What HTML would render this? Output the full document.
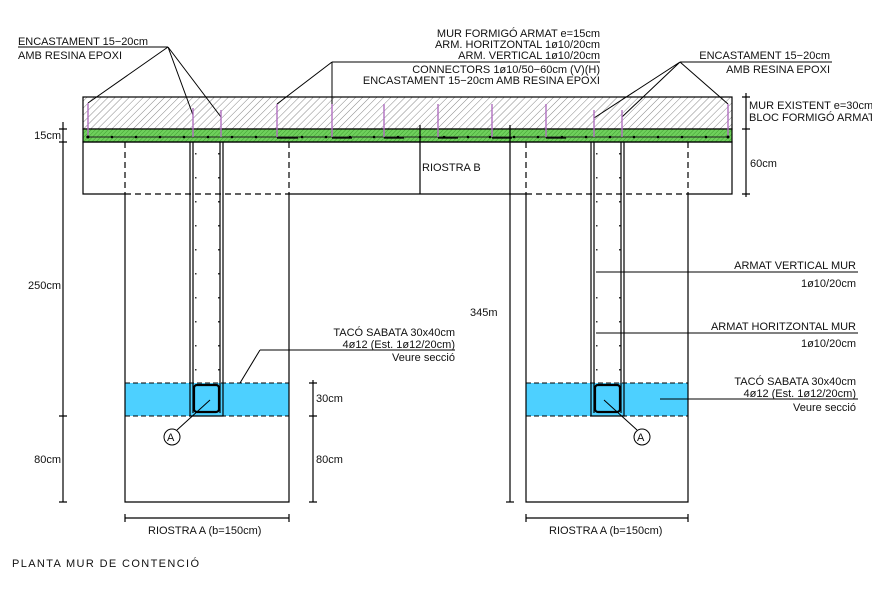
<!DOCTYPE html>
<html><head><meta charset="utf-8"><style>
html,body{margin:0;padding:0;background:#fff;}
svg{display:block;}
text{font-family:"Liberation Sans",sans-serif;font-size:11px;fill:#111;}
</style></head><body>
<svg width="872" height="598" viewBox="0 0 872 598" xmlns="http://www.w3.org/2000/svg">
<defs>
<pattern id="h" width="5" height="5" patternUnits="userSpaceOnUse" patternTransform="rotate(45)">
<rect width="5" height="5" fill="#fff"/><line x1="0" y1="0" x2="0" y2="5" stroke="#888" stroke-width="1"/></pattern>
<pattern id="g" width="3" height="3" patternUnits="userSpaceOnUse" patternTransform="rotate(45)">
<rect width="3" height="3" fill="#6fd05c"/><line x1="0" y1="0" x2="0" y2="3" stroke="#3f9e30" stroke-width="1"/></pattern>
</defs>
<g stroke="#000" fill="none" stroke-width="1.2">
<rect x="83" y="97" width="649" height="32" fill="url(#h)"/>
<rect x="83" y="129" width="649" height="13" fill="url(#g)"/>
<line x1="86" y1="137" x2="729" y2="137" stroke="#222" stroke-width="1"/>
<polyline points="125,194 83,194 83,142 732,142 732,194 688,194"/>
<line x1="289" y1="194" x2="526" y2="194"/>
<line x1="125" y1="142" x2="125" y2="194" stroke-dasharray="6,4"/>
<line x1="289" y1="142" x2="289" y2="194" stroke-dasharray="6,4"/>
<line x1="526" y1="142" x2="526" y2="194" stroke-dasharray="6,4"/>
<line x1="688" y1="142" x2="688" y2="194" stroke-dasharray="6,4"/>
<line x1="125" y1="194" x2="289" y2="194" stroke-dasharray="6,4"/>
<line x1="526" y1="194" x2="688" y2="194" stroke-dasharray="6,4"/>
<rect x="125" y="383" width="164" height="33" fill="#4dd0ff" stroke="none"/>
<rect x="526" y="383" width="162" height="33" fill="#4dd0ff" stroke="none"/>
<polyline points="125,194 125,502 289,502 289,194"/>
<polyline points="526,194 526,502 688,502 688,194"/>
<line x1="125" y1="383" x2="289" y2="383" stroke-dasharray="5,3" stroke-width="1"/>
<line x1="125" y1="416" x2="289" y2="416" stroke-dasharray="5,3" stroke-width="1"/>
<line x1="526" y1="383" x2="688" y2="383" stroke-dasharray="5,3" stroke-width="1"/>
<line x1="526" y1="416" x2="688" y2="416" stroke-dasharray="5,3" stroke-width="1"/>
<path d="M190 142V416H223V142M193 142V413M220 142V413"/>
<path d="M591 142V416H624V142M594 142V413M621 142V413"/>
<rect x="194" y="385" width="25" height="27" rx="3" stroke-width="2.2"/>
<rect x="595" y="385" width="25" height="27" rx="3" stroke-width="2.2"/>
<line x1="420" y1="125" x2="420" y2="194"/>
<line x1="510" y1="125" x2="510" y2="502"/>
<line x1="506" y1="502" x2="514" y2="502"/>
<line x1="63" y1="122" x2="63" y2="502"/>
<path d="M59 129H67M59 142H67M59 416H67M59 502H67"/>
<line x1="313" y1="380" x2="313" y2="502"/>
<path d="M309 383H317M309 416H317M309 502H317"/>
<line x1="746" y1="93" x2="746" y2="197"/>
<path d="M742 97H750M742 129H750M742 194H750"/>
<line x1="125" y1="518" x2="289" y2="518"/><path d="M125 514V522M289 514V522"/>
<line x1="526" y1="518" x2="688" y2="518"/><path d="M526 514V522M688 514V522"/>
<path d="M18 47H168M168 47L88 103M168 47L193 115M168 47L221 117" stroke-width="1"/>
<path d="M332 62H600M332 62L277 104M332 62V117" stroke-width="1"/>
<path d="M680 62H832M680 62L594 118M680 62L622 117M680 62L728 104" stroke-width="1"/>
<path d="M596 272H858M596 333H858M660 399H858M260 350H455M260 350L240 383" stroke-width="1"/>
<path d="M177 430L210 400M637 430L604 400" stroke-width="1"/>
<circle cx="172" cy="437" r="8" stroke-width="1"/>
<circle cx="642" cy="437" r="8" stroke-width="1"/>
</g>
<g stroke="#b070c0" stroke-width="1.4">
<path d="M88 103V137M193 108V137M221 110V137M277 104V137M332 104V137M384 104V137M438 104V137M492 104V137M546 104V137M594 110V137M622 110V137M728 104V137"/>
</g>
<g stroke="#000" stroke-width="1.2" fill="none">
<path d="M277 138H298M332 138H352M384 138H404M438 138H458M492 138H512M546 138H566"/>
</g>
<g fill="#000">
<circle cx="88" cy="137" r="1.5"/><circle cx="112" cy="137" r="1.3"/><circle cx="136" cy="137" r="1.3"/><circle cx="160" cy="137" r="1.3"/><circle cx="184" cy="137" r="1.3"/><circle cx="208" cy="137" r="1.3"/><circle cx="232" cy="137" r="1.3"/><circle cx="256" cy="137" r="1.3"/><circle cx="302" cy="137" r="1.3"/><circle cx="326" cy="137" r="1.3"/><circle cx="350" cy="137" r="1.3"/><circle cx="374" cy="137" r="1.3"/><circle cx="398" cy="137" r="1.3"/><circle cx="420" cy="137" r="1.3"/><circle cx="444" cy="137" r="1.3"/><circle cx="468" cy="137" r="1.3"/><circle cx="490" cy="137" r="1.3"/><circle cx="514" cy="137" r="1.3"/><circle cx="538" cy="137" r="1.3"/><circle cx="562" cy="137" r="1.3"/><circle cx="586" cy="137" r="1.3"/><circle cx="610" cy="137" r="1.3"/><circle cx="634" cy="137" r="1.3"/><circle cx="658" cy="137" r="1.3"/><circle cx="682" cy="137" r="1.3"/><circle cx="706" cy="137" r="1.3"/><circle cx="728" cy="137" r="1.5"/>
</g>
<g fill="#333">
<path d="M195 153h1.5v1.5h-1.5zM218 153h1.5v1.5h-1.5zM195 177h1.5v1.5h-1.5zM218 177h1.5v1.5h-1.5zM195 201h1.5v1.5h-1.5zM218 201h1.5v1.5h-1.5zM195 225h1.5v1.5h-1.5zM218 225h1.5v1.5h-1.5zM195 249h1.5v1.5h-1.5zM218 249h1.5v1.5h-1.5zM195 273h1.5v1.5h-1.5zM218 273h1.5v1.5h-1.5zM195 297h1.5v1.5h-1.5zM218 297h1.5v1.5h-1.5zM195 321h1.5v1.5h-1.5zM218 321h1.5v1.5h-1.5zM195 345h1.5v1.5h-1.5zM218 345h1.5v1.5h-1.5zM195 369h1.5v1.5h-1.5zM218 369h1.5v1.5h-1.5z"/>
<path d="M596 153h1.5v1.5h-1.5zM619 153h1.5v1.5h-1.5zM596 177h1.5v1.5h-1.5zM619 177h1.5v1.5h-1.5zM596 201h1.5v1.5h-1.5zM619 201h1.5v1.5h-1.5zM596 225h1.5v1.5h-1.5zM619 225h1.5v1.5h-1.5zM596 249h1.5v1.5h-1.5zM619 249h1.5v1.5h-1.5zM596 297h1.5v1.5h-1.5zM619 297h1.5v1.5h-1.5zM596 321h1.5v1.5h-1.5zM619 321h1.5v1.5h-1.5zM596 345h1.5v1.5h-1.5zM619 345h1.5v1.5h-1.5zM596 369h1.5v1.5h-1.5zM619 369h1.5v1.5h-1.5z"/>
</g>
<text x="18" y="45" textLength="130">ENCASTAMENT 15−20cm</text>
<text x="18" y="59" textLength="104">AMB RESINA EPOXI</text>
<g text-anchor="end">
<text x="600" y="37">MUR FORMIGÓ ARMAT e=15cm</text>
<text x="600" y="48">ARM. HORITZONTAL 1ø10/20cm</text>
<text x="600" y="59">ARM. VERTICAL 1ø10/20cm</text>
<text x="600" y="73">CONNECTORS 1ø10/50−60cm (V)(H)</text>
<text x="600" y="84">ENCASTAMENT 15−20cm AMB RESINA EPOXI</text>
<text x="830" y="59">ENCASTAMENT 15−20cm</text>
<text x="830" y="73">AMB RESINA EPOXI</text>
<text x="856" y="269">ARMAT VERTICAL MUR</text>
<text x="856" y="287">1ø10/20cm</text>
<text x="856" y="330">ARMAT HORITZONTAL MUR</text>
<text x="856" y="347">1ø10/20cm</text>
<text x="856" y="385">TACÓ SABATA 30x40cm</text>
<text x="856" y="397">4ø12 (Est. 1ø12/20cm)</text>
<text x="856" y="411">Veure secció</text>
<text x="455" y="336">TACÓ SABATA 30x40cm</text>
<text x="455" y="348">4ø12 (Est. 1ø12/20cm)</text>
<text x="455" y="361">Veure secció</text>
<text x="61" y="139">15cm</text>
<text x="61" y="289">250cm</text>
<text x="61" y="463">80cm</text>
</g>
<text x="749" y="109">MUR EXISTENT e=30cm</text>
<text x="749" y="121">BLOC FORMIGÓ ARMAT</text>
<text x="750" y="167">60cm</text>
<text x="422" y="171">RIOSTRA B</text>
<text x="470" y="316">345m</text>
<text x="316" y="402">30cm</text>
<text x="316" y="463">80cm</text>
<text x="148" y="534">RIOSTRA A (b=150cm)</text>
<text x="549" y="534">RIOSTRA A (b=150cm)</text>
<text x="167" y="441" font-size="10">A</text>
<text x="637" y="441" font-size="10">A</text>
<text x="12" y="567" font-size="12.5" textLength="187">PLANTA MUR DE CONTENCIÓ</text>
</svg>
</body></html>
